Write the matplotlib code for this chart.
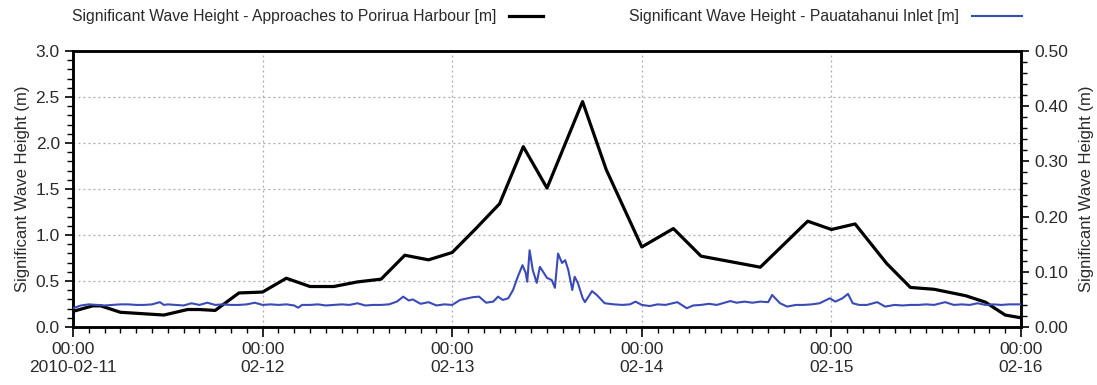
import matplotlib
matplotlib.use("Agg")
import matplotlib.pyplot as plt
import matplotlib.dates as mdates
from matplotlib.ticker import MultipleLocator, FuncFormatter
import pandas as pd

plt.rcParams['font.family'] = ['Liberation Sans', 'DejaVu Sans']

START = pd.Timestamp("2010-02-11 00:00")
END = pd.Timestamp("2010-02-16 00:00")

# Approaches to Porirua Harbour: hours since start, significant wave height [m]
porirua_hours = [0, 2.5, 3.5, 6, 11.5, 14.5, 16, 18, 21, 24, 27, 30, 33, 36, 39,
                 42, 45, 48, 51, 54, 57, 60, 64.5, 67.5, 72, 76, 79.5, 87, 93,
                 96, 99, 103, 106, 109, 113, 115.5, 118, 120]
porirua_hs = [0.17, 0.23, 0.23, 0.16, 0.13, 0.19, 0.19, 0.18, 0.37, 0.38, 0.53,
              0.44, 0.44, 0.49, 0.52, 0.78, 0.73, 0.81, 1.07, 1.34, 1.96, 1.51,
              2.45, 1.71, 0.87, 1.07, 0.77, 0.65, 1.15, 1.06, 1.12, 0.69, 0.43,
              0.41, 0.34, 0.27, 0.13, 0.10]

# Pauatahanui Inlet: hours since start, significant wave height [m]
inlet_hours = [0, 1, 2, 3, 4, 5, 6, 7, 8, 9, 10, 11, 11.5, 12, 13, 14, 15, 16, 17,
               18, 19, 20, 21, 22, 23, 24, 25, 26, 27, 28, 28.5, 29, 30, 31, 32,
               33, 34, 35, 36, 37, 38, 39, 40, 41, 41.8, 42.5, 43, 44, 45, 46, 47,
               48, 49, 50, 50.6, 51.4, 52.3, 53.2, 53.8, 54.4, 55.1, 55.7, 56.3,
               56.9, 57.3, 57.5, 57.8, 58.2, 58.7, 59.1, 59.5, 60.0, 60.6, 61.0,
               61.4, 61.9, 62.3, 62.7, 63.2, 63.5, 63.9, 64.5, 64.8, 65.7, 66.3,
               67.3, 68.5, 69.5, 70.5, 71.2, 72, 73, 74, 75, 76.5, 77.7, 78.5,
               79.5, 80.5, 81.5, 82.5, 83.2, 84, 85, 86, 87, 88, 88.5, 89.5, 90.4,
               91.5, 92.5, 93.5, 94.5, 95.8, 96.5, 97.4, 98.1, 98.7, 99.5, 100.5,
               101.8, 102.8, 104, 105, 106, 107, 108, 109, 110.4, 111.5, 112.5,
               113.5, 114.5, 115.5, 116.5, 117.5, 118.5, 119.5, 120]
inlet_hs = [0.034, 0.039, 0.041, 0.040, 0.039, 0.040, 0.041, 0.041, 0.040, 0.040,
            0.041, 0.045, 0.040, 0.041, 0.040, 0.039, 0.043, 0.040, 0.044, 0.040,
            0.041, 0.040, 0.040, 0.041, 0.044, 0.040, 0.041, 0.040, 0.041, 0.039,
            0.035, 0.040, 0.040, 0.041, 0.039, 0.040, 0.041, 0.040, 0.043, 0.039,
            0.040, 0.040, 0.041, 0.046, 0.055, 0.048, 0.050, 0.042, 0.045, 0.039,
            0.041, 0.040, 0.049, 0.052, 0.054, 0.055, 0.044, 0.046, 0.055, 0.049,
            0.052, 0.067, 0.091, 0.112, 0.098, 0.082, 0.139, 0.103, 0.080, 0.109,
            0.100, 0.089, 0.085, 0.071, 0.133, 0.116, 0.121, 0.103, 0.067, 0.091,
            0.080, 0.053, 0.045, 0.065, 0.058, 0.043, 0.041, 0.040, 0.041, 0.046,
            0.040, 0.038, 0.041, 0.040, 0.045, 0.034, 0.039, 0.040, 0.042, 0.040,
            0.044, 0.047, 0.044, 0.046, 0.044, 0.046, 0.045, 0.058, 0.043, 0.037,
            0.040, 0.040, 0.041, 0.043, 0.052, 0.046, 0.052, 0.060, 0.043, 0.040,
            0.040, 0.045, 0.037, 0.040, 0.039, 0.040, 0.040, 0.041, 0.040, 0.045,
            0.040, 0.041, 0.040, 0.043, 0.040, 0.041, 0.040, 0.041, 0.041, 0.041]

porirua_label = "Significant Wave Height - Approaches to Porirua Harbour [m]"
inlet_label = "Significant Wave Height - Pauatahanui Inlet [m]"
axis_label = "Significant Wave Height (m)"

porirua_t = START + pd.to_timedelta(porirua_hours, unit="h")
inlet_t = START + pd.to_timedelta(inlet_hours, unit="h")

TEXT = "#2a2a2a"
BLUE = "#3a4bb8"

fig = plt.figure(figsize=(10.97, 3.85), dpi=100)
ax = fig.add_axes([73 / 1097, 58 / 385, 948 / 1097, 276 / 385])
ax2 = ax.twinx()

l1, = ax.plot(porirua_t, porirua_hs, color="black", lw=2.3, zorder=3)
l2, = ax2.plot(inlet_t, inlet_hs, color=BLUE, lw=1.5, zorder=3)

ax.set_xlim(START, END)
ax.set_ylim(0, 3.0)
ax2.set_ylim(0, 0.5)

ax.yaxis.set_major_locator(MultipleLocator(0.5))
ax.yaxis.set_minor_locator(MultipleLocator(0.1))
ax.yaxis.set_major_formatter(FuncFormatter(lambda v, p: f"{v:.1f}"))
ax2.yaxis.set_major_locator(MultipleLocator(0.1))
ax2.yaxis.set_minor_locator(MultipleLocator(0.02))
ax2.yaxis.set_major_formatter(FuncFormatter(lambda v, p: f"{v:.2f}"))

ax.xaxis.set_major_locator(mdates.DayLocator())
ax.xaxis.set_minor_locator(mdates.HourLocator(interval=2))


def date_label(x, pos):
    d = mdates.num2date(x)
    if pos == 0:
        return d.strftime("%H:%M\n%Y-%m-%d")
    return d.strftime("%H:%M\n%m-%d")


ax.xaxis.set_major_formatter(FuncFormatter(date_label))

ax.grid(True, which="major", color="#a8a8a8", lw=0.9, ls=(0, (1.5, 2.5)))
ax.set_axisbelow(True)

for a in (ax, ax2):
    for s in a.spines.values():
        s.set_linewidth(1.8)
        s.set_color("black")
    a.tick_params(which="major", length=6, width=1.2, colors="black",
                  labelcolor=TEXT, labelsize=12.5)
    a.tick_params(which="minor", length=4, width=1.0, colors="black")

ax.tick_params(axis="x", which="major", length=7, pad=4)
ax.set_ylabel(axis_label, fontsize=12, color=TEXT, labelpad=4)
ax2.set_ylabel(axis_label, fontsize=12, color=TEXT, labelpad=8)

leg1 = fig.legend([l1], [porirua_label], loc="center left",
                  bbox_to_anchor=(72 / 1097, 1 - 17 / 385), frameon=False,
                  markerfirst=False, fontsize=11.3, handlelength=2.2,
                  handletextpad=0.8, borderpad=0, borderaxespad=0)
leg2 = fig.legend([l2], [inlet_label], loc="center right",
                  bbox_to_anchor=(1022 / 1097, 1 - 17 / 385), frameon=False,
                  markerfirst=False, fontsize=11.3, handlelength=3.2,
                  handletextpad=0.8, borderpad=0, borderaxespad=0)
for lg in (leg1, leg2):
    for t in lg.get_texts():
        t.set_color(TEXT)

fig.savefig("out.png", dpi=100)
